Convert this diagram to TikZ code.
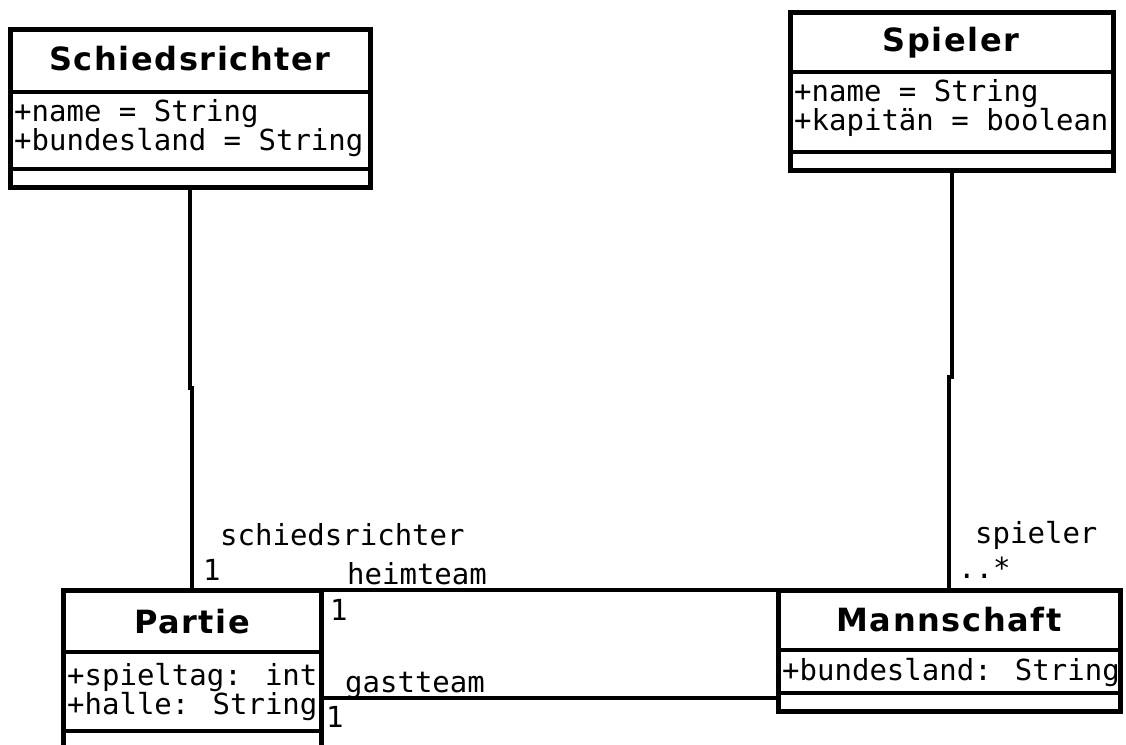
\documentclass[tikz,border=0pt]{standalone}
\usepackage{fontspec}
\setmainfont{DejaVu Sans}
\newfontfamily\titlefont{DejaVu Sans}[LetterSpace=5]
\newfontfamily\monofont{DejaVu Sans Mono}
\begin{document}
\begin{tikzpicture}[x=1pt,y=-1pt,
  cls/.style={draw=black, line width=5pt, fill=white, inner sep=0pt, outer sep=0pt, anchor=north west},
  sepline/.style={line width=4pt},
  conn/.style={line width=4pt},
  ttl/.style={inner sep=0pt, anchor=base, font=\titlefont\bfseries\fontsize{32}{36}\selectfont},
  attr/.style={inner sep=0pt, anchor=base west, font=\monofont\fontsize{29}{34}\selectfont},
  lbl/.style={inner sep=0pt, anchor=base west, font=\monofont\fontsize{29}{34}\selectfont}
]
\useasboundingbox (0,0) rectangle (1126,744);
\clip (0,0) rectangle (1126,744);
\fill[white] (0,0) rectangle (1126,744);

% Schiedsrichter
\node[cls, minimum width=360pt, minimum height=158pt] (S) at (10,29) {};
\draw[sepline] (S.west |- 0,92) -- (S.east |- 0,92);
\draw[sepline] (S.west |- 0,169) -- (S.east |- 0,169);
\node[ttl] (St) at (190,70) {Schiedsrichter};
\node[attr] (Sa1) at (14,121) {+name = String};
\node[attr] (Sa2) at (14,150) {+bundesland = String};

% Spieler
\node[cls, minimum width=323pt, minimum height=158pt] (Sp) at (790,12) {};
\draw[sepline] (Sp.west |- 0,72) -- (Sp.east |- 0,72);
\draw[sepline] (Sp.west |- 0,152) -- (Sp.east |- 0,152);
\node[ttl] (Spt) at (951,51) {Spieler};
\node[attr] (Spa1) at (794,101) {+name = String};
\node[attr] (Spa2) at (794,130) {+kapitän = boolean};

% Partie
\node[cls, minimum width=258pt, minimum height=190pt] (P) at (63,590) {};
\draw[sepline] (P.west |- 0,652) -- (P.east |- 0,652);
\draw[sepline] (P.west |- 0,731) -- (P.east |- 0,731);
\node[ttl] (Pt) at (192,633) {Partie};
\node[attr] (Pa1) at (67,685) {+spieltag: int};
\node[attr] (Pa2) at (67,714) {+halle: String};

% Mannschaft
\node[cls, minimum width=342pt, minimum height=121pt] (M) at (778,590) {};
\draw[sepline] (M.west |- 0,650) -- (M.east |- 0,650);
\draw[sepline] (M.west |- 0,693) -- (M.east |- 0,693);
\node[ttl] (Mt) at (949,631) {Mannschaft};
\node[attr] (Ma1) at (782,680) {+bundesland: String};

% connectors
\draw[conn] (S.south) -- (S.south |- 0,388) -| (P.north);
\draw[conn] (Sp.south) -- (Sp.south |- 0,377) -| (M.north);
\draw[conn] (P.north east) -- (M.north west);
\draw[conn] (P.north east |- 0,698) -- (M.north west |- 0,698);

% labels
\node[lbl] (l1) at (220,545) {schiedsrichter};
\node[lbl] (l2) at (203,580) {1};
\node[lbl] (l3) at (347,584) {heimteam};
\node[lbl] (l4) at (330,620) {1};
\node[lbl] (l5) at (345,692) {gastteam};
\node[lbl] (l6) at (326,727) {1};
\node[lbl] (l7) at (975,543) {spieler};
\node[lbl] (l8) at (958,578) {..*};
\end{tikzpicture}
\end{document}
